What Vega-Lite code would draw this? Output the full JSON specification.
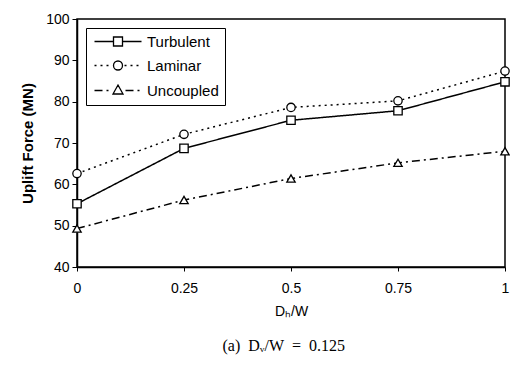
{
  "$schema": "https://vega.github.io/schema/vega-lite/v6.json",
  "width": 428,
  "height": 248,
  "padding": {"left": 20, "top": 12, "right": 6, "bottom": 5},
  "background": "white",
  "config": {
    "view": {"stroke": "black", "strokeWidth": 1.5},
    "font": "Liberation Sans",
    "axis": {"grid": false, "domainColor": "black", "tickColor": "black", "labelColor": "black", "titleColor": "black", "labelFontSize": 14, "domainWidth": 1.5},
    "legend": {
      "title": null,
      "orient": "top-left",
      "offset": 9,
      "strokeColor": "black",
      "padding": 6,
      "labelFontSize": 15,
      "labelColor": "black",
      "symbolSize": 100,
      "symbolStrokeWidth": 1.3,
      "symbolOpacity": 1,
      "rowPadding": 8,
      "labelOffset": 40
    }
  },
  "title": {
    "text": "(a)\u00a0 Dᵥ/W\u00a0 =\u00a0 0.125",
    "orient": "bottom",
    "frame": "bounds",
    "font": "Liberation Serif",
    "fontSize": 16,
    "fontWeight": "normal",
    "color": "black",
    "offset": 20,
    "anchor": "middle"
  },
  "data": {
    "values": [
      {"x": 0, "series": "Turbulent", "y": 55.3},
      {"x": 0.25, "series": "Turbulent", "y": 68.7},
      {"x": 0.5, "series": "Turbulent", "y": 75.5},
      {"x": 0.75, "series": "Turbulent", "y": 77.8},
      {"x": 1, "series": "Turbulent", "y": 84.8},
      {"x": 0, "series": "Laminar", "y": 62.6},
      {"x": 0.25, "series": "Laminar", "y": 72.1},
      {"x": 0.5, "series": "Laminar", "y": 78.6},
      {"x": 0.75, "series": "Laminar", "y": 80.2},
      {"x": 1, "series": "Laminar", "y": 87.4},
      {"x": 0, "series": "Uncoupled", "y": 49.3},
      {"x": 0.25, "series": "Uncoupled", "y": 56.2},
      {"x": 0.5, "series": "Uncoupled", "y": 61.4},
      {"x": 0.75, "series": "Uncoupled", "y": 65.2},
      {"x": 1, "series": "Uncoupled", "y": 68.0}
    ]
  },
  "encoding": {
    "x": {
      "field": "x", "type": "quantitative",
      "scale": {"domain": [0, 1], "nice": false},
      "axis": {"values": [0, 0.25, 0.5, 0.75, 1], "labelExpr": "'' + datum.value", "title": "Dₕ/W", "titleFontSize": 14, "titleFontWeight": "normal", "labelPadding": 10, "tickSize": 4, "titlePadding": 9, "labelFlush": false}
    },
    "y": {
      "field": "y", "type": "quantitative",
      "scale": {"domain": [40, 100], "nice": false},
      "axis": {"values": [40, 50, 60, 70, 80, 90, 100], "title": "Uplift Force (MN)", "titleFontSize": 15, "titleFontWeight": "bold", "tickSize": 5, "labelPadding": 3, "titlePadding": 10}
    }
  },
  "layer": [
    {
      "mark": {"type": "line", "color": "black", "strokeWidth": 1.5},
      "encoding": {
        "strokeDash": {
          "field": "series", "type": "nominal",
          "scale": {"domain": ["Turbulent", "Laminar", "Uncoupled"], "range": [[1, 0], [2, 4], [8, 4, 2, 4]]},
          "legend": null
        }
      }
    },
    {
      "mark": {"type": "point", "filled": true, "fill": "white", "stroke": "black", "strokeWidth": 1.3, "size": 70, "opacity": 1},
      "encoding": {
        "shape": {
          "field": "series", "type": "nominal",
          "scale": {"domain": ["Turbulent", "Laminar", "Uncoupled"], "range": ["square", "circle", "triangle-up"]},
          "legend": null
        }
      }
    },
    {
      "mark": {"type": "point", "filled": false, "color": "black", "strokeWidth": 1.3, "size": 100, "opacity": 0},
      "encoding": {
        "shape": {
          "field": "series", "type": "nominal",
          "scale": {"domain": ["Turbulent", "Laminar", "Uncoupled"], "range": [
            "M-1,0H2.8M4.6,0H8.4M2.8,-0.9H4.6V0.9H2.8Z",
            "M-1,0H-0.6M0.2,0H0.6M1.4,0H1.8M2.8,0A0.9,0.9 0 1,0 4.6,0A0.9,0.9 0 1,0 2.8,0M5.0,0H5.4M6.2,0H6.6M7.4,0H7.8",
            "M-1,0H0.6M1.4,0H1.8M3.7,-1.1L4.7,0.7H2.7ZM5.2,0H6.8M7.6,0H8.0"
          ]},
          "legend": {}
        }
      }
    }
  ],
  "resolve": {
    "scale": {"shape": "independent", "strokeDash": "independent"},
    "legend": {"shape": "independent", "strokeDash": "independent"}
  }
}
